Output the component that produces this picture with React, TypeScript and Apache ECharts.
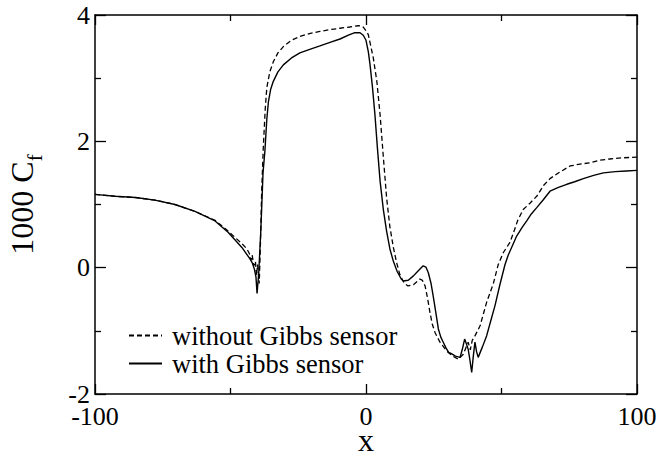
import React, { useEffect, useRef } from "react";
import * as echarts from "echarts";

const seriesNames = ["without Gibbs sensor", "with Gibbs sensor"];

const xWithout = [
  -100, -92.6, -85, -77.9, -70.5, -63.1, -55.7, -50.9, -45.8, -44, -43, -42.4, -42, -41.4, -40.8, -40.4, -40,
  -39.4, -39, -38.5, -37.9, -37.2, -36.6, -35.5, -34.2, -32.5, -30.5, -27.5, -24.4, -20.5, -17, -13, -9.6, -6,
  -2.8, -1.2, 0.2, 0.85, 1.8, 2.7, 4, 5.2, 6.4, 7.6, 8.8, 10.1, 11.3, 12.5, 14, 15.5, 17.5, 19.9, 20.8, 21.8,
  22.7, 23.6, 24.5, 25.5, 27.3, 29.8, 32, 34.1, 35.9, 37.7, 38.5, 39.2, 40.2, 42.1, 44.5, 47, 48.8, 50.7, 53.1,
  54.4, 56, 58, 60.5, 63, 65.5, 67.9, 71, 75.3, 79, 82.7, 86, 90, 95, 100,
];
const yWithout = [
  1.16, 1.13, 1.11, 1.07, 1.0, 0.89, 0.75, 0.58, 0.38, 0.3, 0.22, 0.12, 0.2, 0.03, 0.1, -0.12, 0.05,
  -0.25, 0.3, 1.2, 1.9, 2.5, 2.85, 3.1, 3.26, 3.4, 3.5, 3.6, 3.66, 3.71, 3.74, 3.77, 3.79, 3.81,
  3.83, 3.82, 3.74, 3.69, 3.5, 3.32, 2.95, 2.42, 1.75, 1.11, 0.65, 0.32, 0.08, -0.11, -0.24, -0.29, -0.27, -0.18, -0.2, -0.29,
  -0.48, -0.71, -0.9, -1.03, -1.18, -1.32, -1.4, -1.45, -1.37, -1.18, -1.3, -1.15, -1.08, -0.92, -0.55, -0.25, 0.05, 0.24, 0.4,
  0.55, 0.75, 0.92, 1.02, 1.13, 1.3, 1.41, 1.5, 1.61, 1.64, 1.66, 1.7, 1.72, 1.74, 1.75,
];

const xWith = [
  -100, -92.6, -85, -77.9, -70.5, -63.1, -55.7, -50.9, -45.8, -43, -42, -41.2, -40.6, -40.2, -39.6, -38.8, -38,
  -37.3, -36.6, -36, -35.2, -34.2, -32.5, -30.5, -27.5, -24.4, -20.5, -17, -13, -9.6, -6.5, -4.1, -2.2, -1, 0,
  0.85, 1.5, 2.4, 3.3, 4.2, 5.2, 6.4, 7.6, 8.8, 10.1, 11.5, 13, 13.8, 15.6, 17.5, 19.3, 21.1, 22.1, 23, 24, 24.8,
  25.8, 26.7, 27.6, 28.5, 29.5, 30.5, 31.5, 33, 34.7, 35.5, 36.4, 37, 37.7, 38.3, 39, 39.6, 40.2, 40.8, 41.4, 43,
  44.5, 46.3, 47.6, 49.4, 51.3, 52.5, 55.6, 57.5, 59.3, 61, 63, 65.5, 67.9, 71, 74.1, 77, 80.2, 84, 87.6, 92, 96, 100,
];
const yWith = [
  1.16, 1.13, 1.11, 1.07, 1.0, 0.89, 0.74, 0.56, 0.32, 0.15, 0.08, -0.02, -0.15, -0.41, -0.1, 0.6, 1.5,
  1.85, 2.35, 2.63, 2.82, 2.95, 3.1, 3.21, 3.32, 3.4, 3.46, 3.51, 3.57, 3.62, 3.68, 3.72, 3.72, 3.68, 3.6,
  3.42, 3.21, 2.85, 2.42, 1.9, 1.37, 0.92, 0.58, 0.3, 0.1, -0.06, -0.18, -0.21, -0.2, -0.13, -0.05, 0.03, 0.01, -0.08, -0.25, -0.45,
  -0.72, -0.97, -1.1, -1.18, -1.27, -1.34, -1.36, -1.4, -1.42, -1.3, -1.13, -1.2, -1.29, -1.45, -1.66, -1.4, -1.18, -1.33, -1.42, -1.25,
  -1.08, -0.8, -0.6, -0.27, 0.05, 0.2, 0.5, 0.63, 0.74, 0.85, 0.95, 1.08, 1.21, 1.27, 1.32, 1.36, 1.41, 1.46, 1.5, 1.52, 1.53, 1.54,
];

const xLabelValues = [-100, 0, 100];
const yLabelValues = [-2, 0, 2, 4];

const FONT = "'Liberation Serif', 'Times New Roman', serif";

function pairs(xs: number[], ys: number[]) {
  return xs.map((x, i) => [x, ys[i]]);
}

export default function App() {
  const ref = useRef<HTMLDivElement>(null);
  useEffect(() => {
    if (!ref.current) return;
    const chart = echarts.init(ref.current, null, { renderer: "svg" });
    const axisLine = { show: true, onZero: false, lineStyle: { color: "#000", width: 1.5 } };
    const tickStyle = { color: "#000", width: 1.3 };
    const xBase = {
      type: "value",
      min: -100,
      max: 100,
      interval: 100,
      axisLine,
      axisTick: { show: true, inside: true, length: 10, lineStyle: tickStyle },
      minorTick: { show: true, splitNumber: 2, length: 6, lineStyle: tickStyle },
      splitLine: { show: false },
      minorSplitLine: { show: false },
    };
    const yBase = {
      type: "value",
      min: -2,
      max: 4,
      interval: 2,
      axisLine,
      axisTick: { show: true, inside: true, length: 11, lineStyle: tickStyle },
      minorTick: { show: true, splitNumber: 2, length: 6, lineStyle: tickStyle },
      splitLine: { show: false },
      minorSplitLine: { show: false },
    };
    chart.setOption({
      animation: false,
      backgroundColor: "#fff",
      grid: { left: 95, top: 15, right: 23, bottom: 64, containLabel: false, outerBoundsMode: "none" },
      legend: {
        data: seriesNames,
        orient: "vertical",
        left: 128,
        top: 322,
        padding: 0,
        itemWidth: 33,
        itemHeight: 12,
        itemGap: 1,
        itemStyle: { opacity: 0 },
        textStyle: { fontFamily: FONT, fontSize: 26.5, lineHeight: 22, color: "#000", padding: [0, 0, 0, 5] },
      },
      xAxis: [
        {
          ...xBase,
          position: "bottom",
          axisLabel: {
            show: true,
            fontFamily: FONT,
            fontSize: 26,
            lineHeight: 20,
            color: "#000",
            margin: 12,
            formatter: (v: number) => (xLabelValues.includes(v) ? String(v) : ""),
          },
          name: "x",
          nameLocation: "middle",
          nameGap: 36,
          nameMoveOverlap: false,
          nameTextStyle: { fontFamily: FONT, fontSize: 32, lineHeight: 20, color: "#000" },
        },
        { ...xBase, position: "top", axisLabel: { show: false } },
      ],
      yAxis: [
        {
          ...yBase,
          position: "left",
          axisLabel: {
            show: true,
            fontFamily: FONT,
            fontSize: 26,
            lineHeight: 18,
            color: "#000",
            margin: 5,
            formatter: (v: number) => (yLabelValues.includes(v) ? String(v) : ""),
          },
          name: "{a|1000 C}{b|f}",
          nameLocation: "middle",
          nameRotate: 90,
          nameGap: 50,
          nameMoveOverlap: false,
          nameTextStyle: {
            color: "#000",
            rich: {
              a: { fontFamily: FONT, fontSize: 32, color: "#000", verticalAlign: "bottom", padding: [0, 0, 7, 0] },
              b: { fontFamily: FONT, fontSize: 21, color: "#000", verticalAlign: "bottom" },
            },
          },
        },
        { ...yBase, position: "right", axisLabel: { show: false } },
      ],
      series: [
        {
          name: seriesNames[0],
          type: "line",
          xAxisIndex: 0,
          yAxisIndex: 0,
          data: pairs(xWithout, yWithout),
          symbol: "none",
          lineStyle: { color: "#000", width: 1.3, type: [5, 3] },
          itemStyle: { color: "#000" },
        },
        {
          name: seriesNames[1],
          type: "line",
          xAxisIndex: 0,
          yAxisIndex: 0,
          data: pairs(xWith, yWith),
          symbol: "none",
          lineStyle: { color: "#000", width: 1.4, type: "solid" },
          itemStyle: { color: "#000" },
        },
      ],
    });
    return () => chart.dispose();
  }, []);
  return (
    <div
      ref={ref}
      style={{ position: "fixed", left: 0, top: 0, width: 660, height: 458, background: "#fff" }}
    />
  );
}
